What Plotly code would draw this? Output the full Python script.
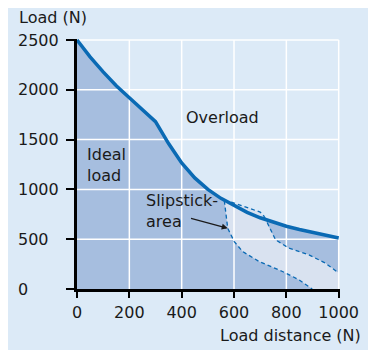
import plotly.graph_objects as go

# permissible load over load distance
dist = [0, 50, 100, 150, 200, 250, 300, 350, 400, 450, 500, 550, 600, 650, 700, 750, 800, 850, 900, 950, 1000]
load = [2500, 2330, 2180, 2040, 1920, 1800, 1680, 1460, 1265, 1115, 1000, 910, 835, 770, 715, 668, 630, 598, 570, 540, 512]

# slipstick area boundaries
slip_left_x = [563, 570, 576, 601, 633, 696, 785, 848, 899]
slip_left_y = [886, 726, 610, 476, 376, 276, 176, 93, 0]
slip_right_x = [715, 733, 759, 810, 886, 949, 1000]
slip_right_y = [730, 626, 493, 410, 343, 260, 160]
slip_top_x = [563, 590, 620, 660, 700, 715]
slip_top_y = [886, 872, 845, 805, 772, 730]

x_ticks = [0, 200, 400, 600, 800, 1000]
y_ticks = [0, 500, 1000, 1500, 2000, 2500]

BG = "#dceaf7"
DARK = "#a6bedf"
LIGHT = "#d9e2f0"
BLUE = "#0a6ab4"
FONT = "DejaVu Sans"

fig = go.Figure()

# dark area under the curve
fig.add_trace(go.Scatter(x=dist, y=load, fill="tozeroy", fillcolor=DARK,
                         mode="lines", line=dict(width=0), hoverinfo="skip"))

# light slipstick area
poly_x = slip_left_x + [slip_right_x[-1]] + slip_right_x[::-1] + slip_top_x[::-1]
poly_y = slip_left_y + [slip_left_y[-1]] + slip_right_y[::-1] + slip_top_y[::-1]
fig.add_trace(go.Scatter(x=poly_x, y=poly_y, fill="toself", fillcolor=LIGHT,
                         mode="lines", line=dict(width=0), hoverinfo="skip"))

# white grid drawn above the fills
gx, gy = [], []
for v in x_ticks[1:]:
    gx += [v, v, None]
    gy += [y_ticks[0], y_ticks[-1], None]
for v in y_ticks[1:]:
    gx += [x_ticks[0], x_ticks[-1], None]
    gy += [v, v, None]
fig.add_trace(go.Scatter(x=gx, y=gy, mode="lines", line=dict(color="white", width=1.5),
                         hoverinfo="skip"))

# dashed boundaries
for xs, ys in [(slip_left_x, slip_left_y), (slip_right_x, slip_right_y), (slip_top_x, slip_top_y)]:
    fig.add_trace(go.Scatter(x=xs, y=ys, mode="lines",
                             line=dict(color=BLUE, width=1.3, dash="4px,3px"), hoverinfo="skip"))

# main curve
fig.add_trace(go.Scatter(x=dist, y=load, mode="lines", line=dict(color=BLUE, width=3.5),
                         hoverinfo="skip"))

txt = dict(family=FONT, size=16, color="#1a1a1a")

for v in y_ticks:
    fig.add_annotation(text=str(v), xref="paper", x=0, xanchor="left", xshift=-61,
                       yref="y", y=v, yanchor="middle", showarrow=False, font=txt)

fig.add_annotation(text="Load (N)", xref="paper", x=0, xanchor="left", xshift=-60,
                   yref="paper", y=1, yanchor="middle", yshift=22, showarrow=False, font=txt)
fig.add_annotation(text="Load distance (N)", xref="paper", x=1, xanchor="right", xshift=23,
                   yref="paper", y=0, yanchor="middle", yshift=-46, showarrow=False, font=txt)

fig.add_annotation(text="Overload", x=409, y=1723, xanchor="left", yanchor="middle",
                   showarrow=False, font=txt)
fig.add_annotation(text="Ideal<br>load", x=30, y=1243, xanchor="left", yanchor="middle",
                   align="left", showarrow=False, font=txt)
fig.add_annotation(text="Slipstick-<br>area", x=255, y=783, xanchor="left", yanchor="middle",
                   align="left", showarrow=False, font=txt)
fig.add_annotation(x=576, y=610, ax=430, ay=713, axref="x", ayref="y", text="",
                   showarrow=True, arrowhead=2, arrowsize=1, arrowwidth=1.2, arrowcolor="#1a1a1a")

fig.update_xaxes(range=[0, 1005], tickvals=x_ticks, showgrid=False, zeroline=False,
                 showline=True, linecolor="black", linewidth=3,
                 ticks="outside", ticklen=6, tickwidth=1.5, tickcolor="black",
                 tickfont=txt, ticklabelstandoff=1, layer="above traces")
fig.update_yaxes(range=[0, 2510], tickvals=y_ticks, showgrid=False, zeroline=False,
                 showline=True, linecolor="black", linewidth=3, showticklabels=False,
                 ticks="outside", ticklen=8, tickwidth=1.5, tickcolor="black",
                 layer="above traces")

# the page adds an 8px body margin, so the figure is 8px smaller on each side
fig.update_layout(width=368, height=342, showlegend=False,
                  margin=dict(l=69, r=36, t=31, b=61),
                  paper_bgcolor=BG, plot_bgcolor=BG)

fig.write_html("out.html")
